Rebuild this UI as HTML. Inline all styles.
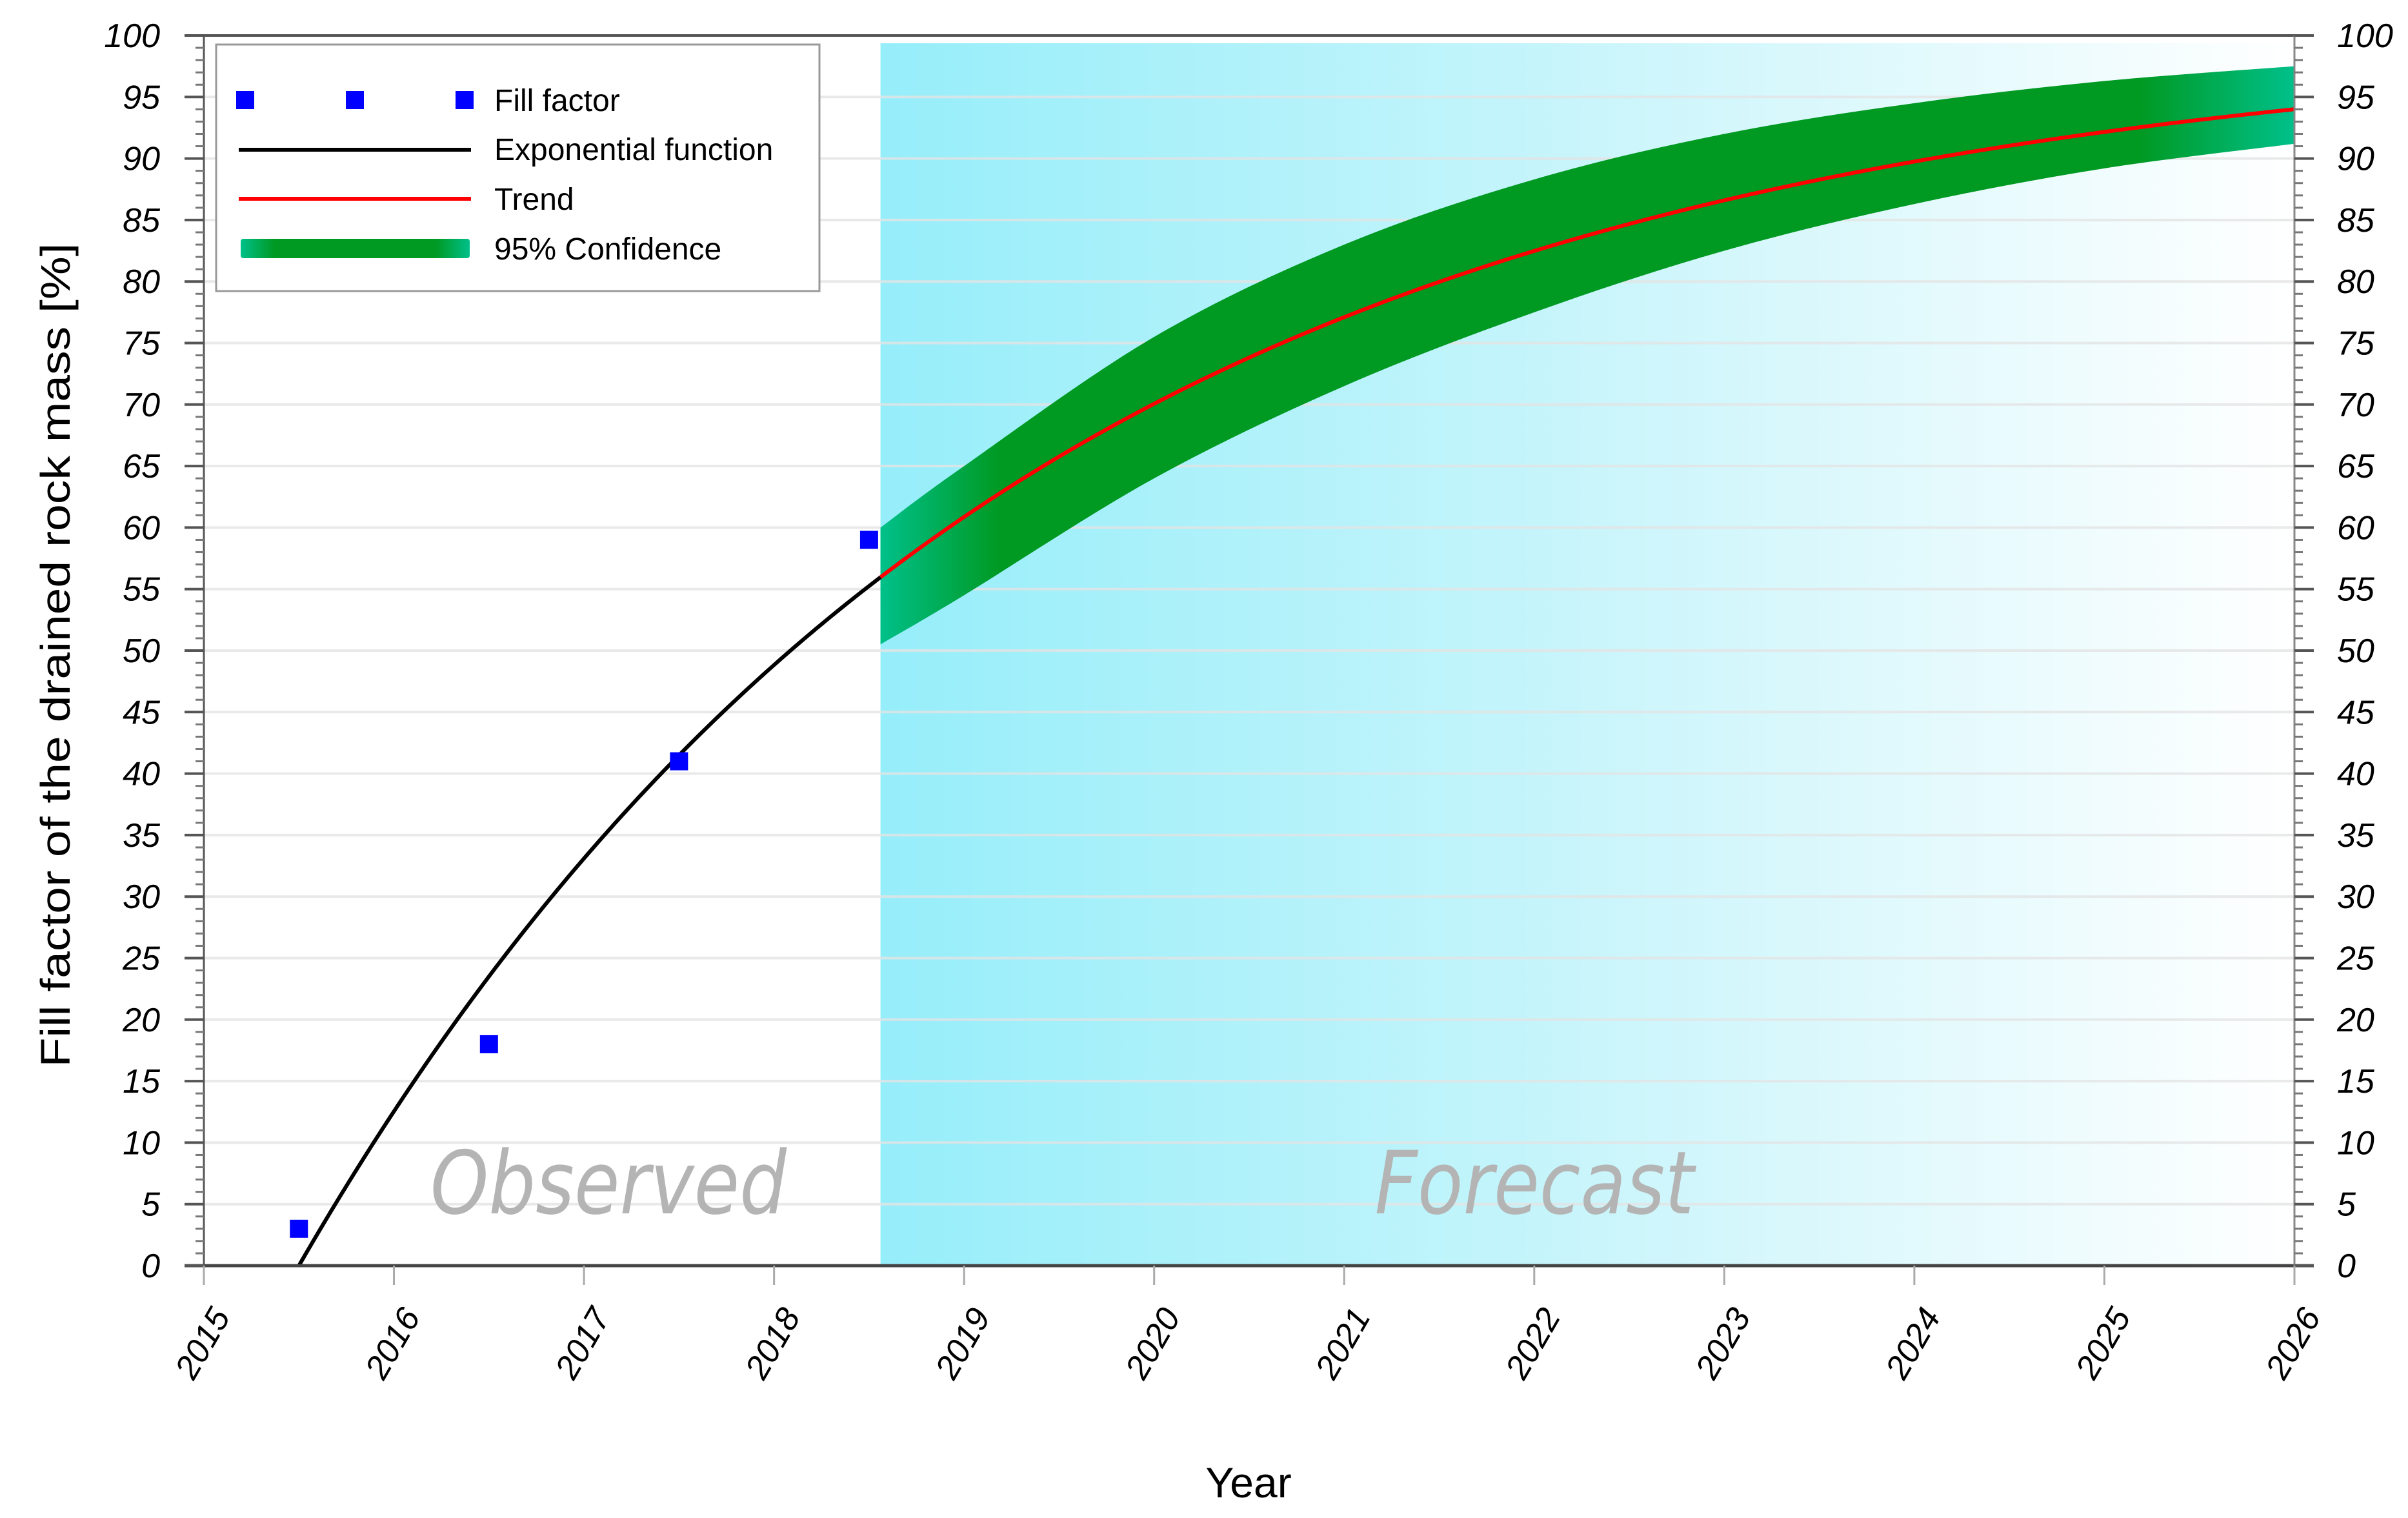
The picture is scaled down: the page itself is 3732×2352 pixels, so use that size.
<!DOCTYPE html>
<html><head><meta charset="utf-8"><style>
html,body{margin:0;padding:0;background:#fff;}
svg{display:block;font-family:"Liberation Sans",sans-serif;}
</style></head><body>
<svg id="chart" width="3732" height="2352" viewBox="0 0 3732 2352" xmlns="http://www.w3.org/2000/svg">
<defs>
<linearGradient id="fcBg" x1="0" y1="0" x2="1" y2="0">
<stop offset="0" stop-color="#96eefa"/><stop offset="0.5" stop-color="#c9f5fb"/><stop offset="1" stop-color="#ffffff"/>
</linearGradient>
<linearGradient id="bandG" x1="0" y1="0" x2="1" y2="0">
<stop offset="0" stop-color="#00c08a"/><stop offset="0.085" stop-color="#009922"/><stop offset="0.89" stop-color="#009922"/><stop offset="1" stop-color="#00c08a"/>
</linearGradient>
<linearGradient id="legBand" x1="0" y1="0" x2="1" y2="0">
<stop offset="0" stop-color="#00c08a"/><stop offset="0.15" stop-color="#009922"/><stop offset="0.85" stop-color="#009922"/><stop offset="1" stop-color="#00c08a"/>
</linearGradient>
</defs>
<g id="plot"></g>
</svg>
<script>
const years = [2015,2016,2017,2018,2019,2020,2021,2022,2023,2024,2025,2026];
const yTicks = [0,5,10,15,20,25,30,35,40,45,50,55,60,65,70,75,80,85,90,95,100];
const obsX = [2015.5,2016.5,2017.5,2018.5];
const obsY = [3,18,41,59];
const fitA = 100, fitK = 0.268, fitT0 = 2015.5;
const forecastStart = 2018.56;
const bandX = [2018.56,2019,2020,2021,2022,2023,2024,2025,2026];
const bandLow = [50.5,54.5,64,71.5,77.5,82.5,86.3,89.2,91.2];
const bandHigh = [60,65,75.5,83,88.3,92,94.5,96.3,97.5];

const L=316,R=3556,T=55,B=1961;
const sx = v => L + (v-2015)/(2026-2015)*(R-L);
const sy = v => B - v/100*(B-T);
const NS="http://www.w3.org/2000/svg";
const plotG=document.getElementById('plot');
function mk(tag,attrs,parent){const e=document.createElementNS(NS,tag);for(const k in attrs)e.setAttribute(k,attrs[k]);(parent||plotG).appendChild(e);return e;}
const fit = t => fitA*(1-Math.exp(-fitK*(t-fitT0)));
function crPath(p,start){ // Catmull-Rom to cubic bezier
 let d=start?('M'+p[0][0]+','+p[0][1]):('L'+p[0][0]+','+p[0][1]);
 for(let i=0;i<p.length-1;i++){
  const p0=p[Math.max(0,i-1)],p1=p[i],p2=p[i+1],p3=p[Math.min(p.length-1,i+2)];
  const c1=[p1[0]+(p2[0]-p0[0])/6,p1[1]+(p2[1]-p0[1])/6];
  const c2=[p2[0]-(p3[0]-p1[0])/6,p2[1]-(p3[1]-p1[1])/6];
  d+=` C${c1[0]},${c1[1]} ${c2[0]},${c2[1]} ${p2[0]},${p2[1]}`;}
 return d;}

let el=mk('rect',{x:sx(forecastStart),y:67,width:R-sx(forecastStart),height:B-67,fill:'url(#fcBg)'});



yTicks.forEach(v=>{if(v===0||v===100)return;
 const l=mk('line',{x1:L,x2:R,y1:sy(v),y2:sy(v),stroke:'#e4e4e4','stroke-width':4,'stroke-opacity':0.8});
 
 });

el=mk('text',{x:943,y:1880,'font-size':135,'font-style':'italic',fill:'#b4b4b4','text-anchor':'middle','font-family':'"DejaVu Sans",sans-serif',textLength:552,lengthAdjust:'spacingAndGlyphs'});el.textContent='Observed';


el=mk('text',{x:2378,y:1880,'font-size':135,'font-style':'italic',fill:'#b4b4b4','text-anchor':'middle','font-family':'"DejaVu Sans",sans-serif',textLength:495,lengthAdjust:'spacingAndGlyphs'});el.textContent='Forecast';



const bandTopPts=bandX.map((x,i)=>[sx(x),sy(bandHigh[i])]);
const bandBotPts=bandX.map((x,i)=>[sx(x),sy(bandLow[i])]).reverse();
el=mk('path',{d:crPath(bandTopPts,true)+' '+crPath(bandBotPts,false)+' Z',fill:'url(#bandG)'});



let pts=[];for(let t=fitT0;t<=forecastStart+0.001;t+=0.02)pts.push(sx(t)+','+sy(fit(t)));
el=mk('polyline',{points:pts.join(' '),fill:'none',stroke:'#000','stroke-width':6});


pts=[];for(let t=forecastStart;t<=2026.001;t+=0.02)pts.push(sx(t)+','+sy(fit(t)));
el=mk('polyline',{points:pts.join(' '),fill:'none',stroke:'#ff0000','stroke-width':6});



obsX.forEach((x,i)=>{const r=mk('rect',{x:sx(x)-14,y:sy(obsY[i])-14,width:28,height:28,fill:'#0000ff'});
 
 });

el=mk('line',{x1:L-30,x2:R,y1:T,y2:T,stroke:'#555','stroke-width':4});


el=mk('line',{x1:L-30,x2:R+30,y1:B,y2:B,stroke:'#444','stroke-width':5});


el=mk('line',{x1:L,x2:L,y1:T,y2:B+30,stroke:'#555','stroke-width':3});


el=mk('line',{x1:R,x2:R,y1:T,y2:B+30,stroke:'#888','stroke-width':3});


for(let v=1;v<100;v++){ if(v%5===0)continue;
 mk('line',{x1:L-13,x2:L,y1:sy(v),y2:sy(v),stroke:'#777','stroke-width':3});
 mk('line',{x1:R,x2:R+13,y1:sy(v),y2:sy(v),stroke:'#777','stroke-width':3});}
yTicks.forEach(v=>{
 mk('line',{x1:L-30,x2:L,y1:sy(v),y2:sy(v),stroke:'#555','stroke-width':4});
 mk('line',{x1:R,x2:R+30,y1:sy(v),y2:sy(v),stroke:'#555','stroke-width':4});
 let t=mk('text',{x:248,y:sy(v)+18,'font-size':52,'font-style':'italic','text-anchor':'end',fill:'#000'});t.textContent=v;
 
 
 t=mk('text',{x:3622,y:sy(v)+18,'font-size':52,'font-style':'italic','text-anchor':'start',fill:'#000'});t.textContent=v;
 
 });
years.forEach(y=>{
 mk('line',{x1:sx(y),x2:sx(y),y1:B,y2:B+30,stroke:'#aaa','stroke-width':3});
 const t=mk('text',{'font-size':52,'font-style':'italic','text-anchor':'end',fill:'#000',transform:`translate(${sx(y)+42},2040) rotate(-60)`});t.textContent=y;
 
 });

el=mk('text',{'font-size':64,'text-anchor':'middle',fill:'#000',transform:'translate(108,1015) rotate(-90)',textLength:1277,lengthAdjust:'spacingAndGlyphs'});el.textContent='Fill factor of the drained rock mass [%]';


el=mk('text',{x:1935,y:2320,'font-size':66,'text-anchor':'middle',fill:'#000'});el.textContent='Year';



const lg=mk('g',{});


mk('rect',{x:335,y:69,width:935,height:382,fill:'#fff',stroke:'#999','stroke-width':3},lg);
[380,550,720].forEach(x=>{mk('rect',{x:x-14,y:141,width:28,height:28,fill:'#0000ff'},lg);});
mk('line',{x1:370,x2:730,y1:232,y2:232,stroke:'#000','stroke-width':6},lg);
mk('line',{x1:370,x2:730,y1:308,y2:308,stroke:'#ff0000','stroke-width':6},lg);
mk('rect',{x:373,y:370,width:355,height:30,fill:'url(#legBand)',rx:4},lg);
const labs=[['Fill factor',172,'legend-entry-fill-factor'],['Exponential function',248,'legend-entry-exponential'],['Trend',325,'legend-entry-trend'],['95% Confidence',402,'legend-entry-confidence']];
labs.forEach(a=>{const t=mk('text',{x:766,y:a[1],'font-size':48,fill:'#000'},lg);t.textContent=a[0];
 
 });
</script>
</body></html>
